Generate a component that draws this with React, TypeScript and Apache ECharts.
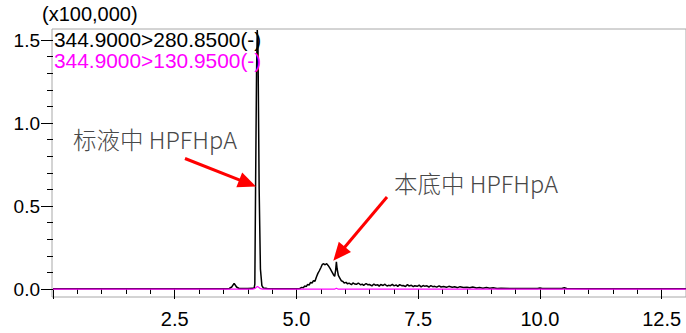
import React, { useEffect, useRef } from "react";
import * as echarts from "echarts";

// ---- data (retention time in min, intensity in x100,000) ----
const xTickLabels = ["2.5", "5.0", "7.5", "10.0", "12.5"];
const yTickLabels = ["0.0", "0.5", "1.0", "1.5"];
const unitLabel = "(x100,000)";
const seriesNames = ["344.9000>280.8500(-)", "344.9000>130.9500(-)"];
const annotationTexts = ["标液中 HPFHpA", "本底中 HPFHpA"];

const blackBaseline: [number, number][] = [
  [0, 0.002], [1.0, 0.002], [2.0, 0.002], [3.0, 0.002], [3.55, 0.002],
];
const blackSmallPeak: [number, number][] = [
  [3.62, 0.003], [3.67, 0.012], [3.72, 0.034], [3.77, 0.012], [3.82, 0.003],
  [4.0, 0.003], [4.1, 0.004],
];
const blackMainPeak: [number, number][] = [
  [4.13, 0.004], [4.145, 0.03], [4.16, 0.6], [4.18, 1.3], [4.195, 1.56],
  [4.21, 1.45], [4.234, 0.6], [4.26, 0.12], [4.29, 0.02], [4.32, 0.006],
  [4.4, 0.003], [4.6, 0.002], [4.8, 0.002], [5.0, 0.002], [5.07, 0.003],
];
const blackMatrixHump: [number, number][] = [
  [5.11, 0.01], [5.14, 0.007], [5.17, 0.018], [5.2, 0.014], [5.23, 0.028],
  [5.26, 0.024], [5.29, 0.04], [5.32, 0.036], [5.35, 0.05], [5.38, 0.047],
  [5.41, 0.072], [5.44, 0.094], [5.47, 0.11], [5.5, 0.128], [5.53, 0.148],
  [5.56, 0.152], [5.59, 0.146], [5.62, 0.153], [5.65, 0.142], [5.69, 0.124],
  [5.72, 0.108], [5.76, 0.086], [5.785, 0.076], [5.805, 0.114], [5.82, 0.163],
  [5.835, 0.122], [5.86, 0.082], [5.89, 0.066], [5.92, 0.05], [5.95, 0.046],
  [5.98, 0.036], [6.02, 0.04],
];
const blackTail: [number, number][] = [
  [6.05, 0.031], [6.08, 0.035], [6.13, 0.026], [6.16, 0.037], [6.2, 0.03],
  [6.23, 0.028], [6.27, 0.036], [6.32, 0.025], [6.35, 0.029], [6.38, 0.022],
  [6.43, 0.033], [6.46, 0.026], [6.5, 0.027], [6.55, 0.019], [6.59, 0.03],
  [6.62, 0.023], [6.67, 0.025], [6.7, 0.017], [6.73, 0.027], [6.78, 0.021],
  [6.81, 0.029], [6.86, 0.018], [6.89, 0.022], [6.93, 0.02], [6.97, 0.028],
  [7.0, 0.019], [7.05, 0.024], [7.08, 0.016], [7.12, 0.026], [7.16, 0.02],
  [7.19, 0.021], [7.24, 0.015], [7.28, 0.027], [7.31, 0.018], [7.36, 0.022],
  [7.4, 0.014], [7.43, 0.02], [7.48, 0.016], [7.52, 0.023], [7.56, 0.013],
  [7.6, 0.021], [7.63, 0.017], [7.68, 0.019], [7.72, 0.012], [7.76, 0.02],
  [7.8, 0.014], [7.84, 0.016], [7.88, 0.011], [7.93, 0.019], [7.97, 0.012],
  [8.02, 0.015], [8.08, 0.01], [8.13, 0.016], [8.2, 0.011], [8.25, 0.013],
  [8.31, 0.008], [8.36, 0.014], [8.43, 0.009], [8.5, 0.011], [8.56, 0.007],
  [8.62, 0.012], [8.7, 0.006], [8.76, 0.009], [8.83, 0.005], [8.9, 0.009],
  [8.97, 0.004], [9.04, 0.007], [9.12, 0.003],
  [9.2, 0.004], [9.4, 0.003], [9.6, 0.003], [9.95, 0.003],
  [10.0, 0.006], [10.05, 0.003], [10.45, 0.003], [10.5, 0.008], [10.55, 0.003],
  [11.0, 0.002], [12.0, 0.002], [13.0, 0.002],
];
const magentaTrace: [number, number][] = [
  [0, -0.001], [4.1, -0.001], [4.15, 0.004], [4.2, 0.016], [4.25, 0.004],
  [4.3, -0.001], [5.78, -0.001], [5.82, 0.005], [5.86, -0.001], [13.0, -0.001],
];

const blackTrace = [
  ...blackBaseline, ...blackSmallPeak, ...blackMainPeak, ...blackMatrixHump, ...blackTail,
];

function arrow(x1: number, y1: number, x2: number, y2: number) {
  const dx = x2 - x1, dy = y2 - y1;
  const len = Math.sqrt(dx * dx + dy * dy);
  const ux = dx / len, uy = dy / len;
  const nx = -uy, ny = ux;
  const hl = 18, hw = 8;
  const bx = x2 - ux * hl, by = y2 - uy * hl;
  return [
    {
      type: "line",
      shape: { x1, y1, x2: bx + ux * 2, y2: by + uy * 2 },
      style: { stroke: "#ff0000", lineWidth: 3 },
      z: 100,
    },
    {
      type: "polygon",
      shape: { points: [[x2, y2], [bx + nx * hw, by + ny * hw], [bx - nx * hw, by - ny * hw]] },
      style: { fill: "#ff0000" },
      z: 100,
    },
  ];
}

function txt(text: string, x: number, y: number, fill: string, font: string, lineHeight: number, scaleX = 1) {
  return {
    type: "text",
    x,
    y,
    scaleX,
    z: 90,
    style: {
      text,
      fill,
      font,
      lineHeight,
      textAlign: "left",
      align: "left",
      textVerticalAlign: "middle",
      verticalAlign: "middle",
    },
  };
}

export default function App() {
  const ref = useRef<HTMLDivElement>(null);
  useEffect(() => {
    document.body.style.margin = "0";
    const chart = echarts.init(ref.current!, null, { renderer: "svg" });
    const latin = "'Liberation Sans', Arial, sans-serif";
    const cjk = "'Noto Sans CJK SC', 'Noto Sans', sans-serif";
    chart.setOption({
      animation: false,
      backgroundColor: "#ffffff",
      grid: [
        { left: 53, right: -1, top: 40, bottom: 44, show: false },
        { left: 52, right: -5, top: 29, bottom: 36, show: true, borderColor: "#a8a8a8", borderWidth: 1, backgroundColor: "transparent" },
      ],
      xAxis: [
        {
          type: "value",
          gridIndex: 0,
          min: 0,
          max: 13,
          interval: 2.5,
          offset: 8,
          axisLine: { show: false },
          axisTick: { show: true, length: 10, lineStyle: { color: "#000", width: 1 } },
          minorTick: { show: true, splitNumber: 5, length: 5, lineStyle: { color: "#000", width: 1 } },
          splitLine: { show: false },
          axisLabel: {
            showMinLabel: false,
            showMaxLabel: false,
            color: "#000",
            fontFamily: latin,
            fontSize: 20,
            verticalAlign: "middle",
            margin: 22,
            formatter: (v: number) => {
              const s = v.toFixed(1);
              return xTickLabels.includes(s) ? s : "";
            },
          },
        },
        { type: "value", gridIndex: 1, show: false, min: 0, max: 1 },
      ],
      yAxis: [
        {
          type: "value",
          gridIndex: 0,
          min: 0,
          max: 1.5,
          interval: 0.5,
          axisLine: { show: false },
          axisTick: { show: true, length: 12, lineStyle: { color: "#000", width: 1 } },
          minorTick: { show: true, splitNumber: 5, length: 6, lineStyle: { color: "#000", width: 1 } },
          splitLine: { show: false },
          axisLabel: {
            color: "#000",
            fontFamily: latin,
            fontSize: 19,
            margin: 13,
            formatter: (v: number) => {
              const s = v.toFixed(1);
              return yTickLabels.includes(s) ? s : "";
            },
          },
        },
        { type: "value", gridIndex: 1, show: false, min: 0, max: 1 },
      ],
      series: [
        {
          name: seriesNames[0],
          type: "line",
          xAxisIndex: 0,
          yAxisIndex: 0,
          data: blackTrace,
          showSymbol: false,
          symbol: "none",
          clip: false,
          lineStyle: { color: "#000000", width: 1.5 },
          z: 3,
        },
        {
          name: seriesNames[1],
          type: "line",
          xAxisIndex: 0,
          yAxisIndex: 0,
          data: magentaTrace,
          showSymbol: false,
          symbol: "none",
          clip: false,
          lineStyle: { color: "#ff00ff", width: 1.2 },
          z: 4,
        },
      ],
      graphic: [
        txt(unitLabel, 42, 14, "#000", `20px ${latin}`, 20),
        txt(seriesNames[0], 54, 40, "#000", `20px ${latin}`, 19, 1.045),
        txt(seriesNames[1], 54, 60.5, "#ff00ff", `20px ${latin}`, 19, 1.045),
        txt(annotationTexts[0], 73, 139, "#484848", `300 23.5px ${cjk}`, 24),
        txt(annotationTexts[1], 394, 182.5, "#484848", `300 23.5px ${cjk}`, 24),
        ...arrow(185, 158.5, 256, 186.5),
        ...arrow(387, 197, 333.3, 260.7),
      ],
    });
    return () => chart.dispose();
  }, []);
  return (
    <div
      ref={ref}
      style={{ position: "absolute", left: 0, top: 0, width: 686, height: 333 }}
    />
  );
}
